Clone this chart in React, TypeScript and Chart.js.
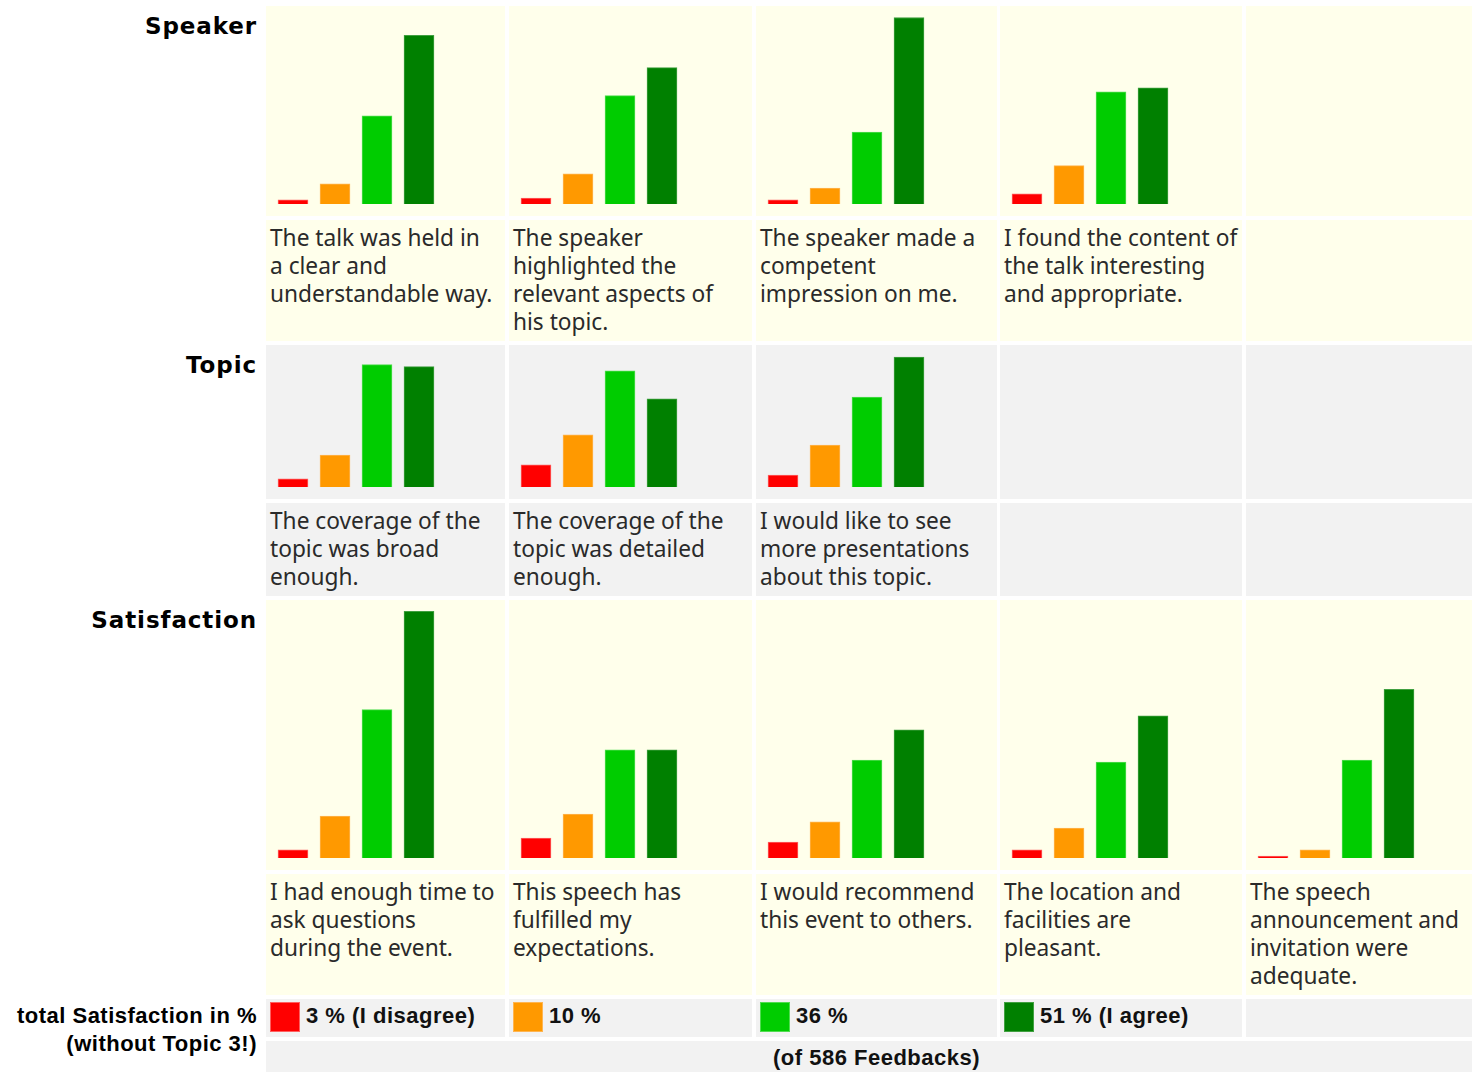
import React, { useEffect, useRef } from "react";
import { Chart, registerables } from "chart.js";

Chart.register(...registerables);

// ---------- data ----------
const categories = ["I disagree", "rather disagree", "rather agree", "I agree"];
const barColors = ["#ff0000", "#ff9900", "#00cc00", "#008000"];
const barBorders = ["#ff6060", "#ffb550", "#50dd50", "#40a040"];

const sectionNames = ["Speaker", "Topic", "Satisfaction"];

const speakerQuestions = [
  ["The talk was held in", "a clear and", "understandable way."],
  ["The speaker", "highlighted the", "relevant aspects of", "his topic."],
  ["The speaker made a", "competent", "impression on me."],
  ["I found the content of", "the talk interesting", "and appropriate."],
];
const speakerValues = [
  [1.5, 7.2, 31.5, 60.2],
  [2.1, 10.8, 38.7, 48.7],
  [1.5, 5.7, 25.7, 66.6],
  [3.6, 13.7, 40.1, 41.5],
];

const topicQuestions = [
  ["The coverage of the", "topic was broad", "enough."],
  ["The coverage of the", "topic was detailed", "enough."],
  ["I would like to see", "more presentations", "about this topic."],
];
const topicValues = [
  [2.9, 11.4, 43.7, 43.0],
  [7.9, 18.6, 41.5, 31.5],
  [4.3, 15.0, 32.1, 46.4],
];

const satisfactionQuestions = [
  ["I had enough time to", "ask questions", "during the event."],
  ["This speech has", "fulfilled my", "expectations."],
  ["I would recommend", "this event to others."],
  ["The location and", "facilities are", "pleasant."],
  ["The speech", "announcement and", "invitation were", "adequate."],
];
const satisfactionValues = [
  [2.9, 15.0, 53.0, 88.1],
  [7.1, 15.7, 38.6, 38.6],
  [5.7, 12.9, 35.0, 45.8],
  [2.9, 10.7, 34.3, 50.8],
  [0.7, 2.9, 35.0, 60.2],
];

const totalTitle = ["total Satisfaction in %", "(without Topic 3!)"];
const totalPercent = [3, 10, 36, 51];
const totalSuffix = [" (I disagree)", "", "", " (I agree)"];
const feedbackCount = 586;

// ---------- layout ----------
const PX_PER_UNIT = 2.8;
const COL_LEFT = [266, 509, 756, 1000, 1246];
const COL_WIDTH = [239, 243, 241, 242, 241];
const ROWS = [
  { chartTop: 6, chartH: 210, textTop: 220, textH: 121, bg: "#ffffeb" },
  { chartTop: 345, chartH: 154, textTop: 503, textH: 93, bg: "#f2f2f2" },
  { chartTop: 600, chartH: 270, textTop: 874, textH: 121, bg: "#ffffeb" },
];
const GRAY = "#f2f2f2";

const questionFont = "'Noto Sans', sans-serif";
const headFont = "'DejaVu Sans', sans-serif";
const boldFont = "'Liberation Sans', Arial, sans-serif";

function BarCell(props: { values: number[]; left: number; top: number; height: number }) {
  const ref = useRef<HTMLCanvasElement>(null);
  const { values, left, top, height } = props;
  useEffect(() => {
    const chart = new Chart(ref.current as HTMLCanvasElement, {
      type: "bar",
      data: {
        labels: categories,
        datasets: [
          {
            data: values,
            backgroundColor: barColors,
            borderColor: barBorders,
            borderWidth: 1,
            barThickness: 30,
          },
        ],
      },
      options: {
        animation: false,
        responsive: false,
        maintainAspectRatio: false,
        events: [],
        layout: { padding: 0 },
        plugins: { legend: { display: false }, tooltip: { enabled: false } },
        scales: {
          x: { display: false },
          y: { display: false, min: 0, max: height / PX_PER_UNIT },
        },
      },
    });
    return () => chart.destroy();
  }, []);
  return (
    <canvas
      ref={ref}
      width={168}
      height={height}
      style={{ position: "absolute", left, top, width: 168, height }}
    />
  );
}

export default function App() {
  const sections = [
    { questions: speakerQuestions, values: speakerValues },
    { questions: topicQuestions, values: topicValues },
    { questions: satisfactionQuestions, values: satisfactionValues },
  ];
  const els: any[] = [];
  sections.forEach((sec, si) => {
    const r = ROWS[si];
    els.push(
      <div
        key={"h" + si}
        style={{
          position: "absolute",
          left: 0,
          width: 257,
          top: r.chartTop + 6,
          textAlign: "right",
          font: `bold 23px ${headFont}`,
          lineHeight: "28px",
          letterSpacing: "0.9px",
          color: "#000",
          whiteSpace: "nowrap",
        }}
      >
        {sectionNames[si]}
      </div>
    );
    for (let c = 0; c < 5; c++) {
      els.push(
        <div
          key={`cb${si}-${c}`}
          style={{ position: "absolute", left: COL_LEFT[c], top: r.chartTop, width: COL_WIDTH[c], height: r.chartH, background: r.bg }}
        />
      );
      els.push(
        <div
          key={`tb${si}-${c}`}
          style={{ position: "absolute", left: COL_LEFT[c], top: r.textTop, width: COL_WIDTH[c], height: r.textH, background: r.bg }}
        />
      );
      if (c < sec.values.length) {
        els.push(
          <BarCell key={`ch${si}-${c}`} values={sec.values[c]} left={COL_LEFT[c] + 6} top={r.chartTop} height={r.chartH - 12} />
        );
        els.push(
          <div
            key={`tx${si}-${c}`}
            style={{
              position: "absolute",
              left: COL_LEFT[c] + 4,
              top: r.textTop + 4,
              font: `22.7px ${questionFont}`,
              lineHeight: "28px",
              color: "#2a2a2a",
              whiteSpace: "nowrap",
            }}
          >
            {sec.questions[c].map((line, i) => (
              <div key={i}>{line}</div>
            ))}
          </div>
        );
      }
    }
  });

  // totals
  els.push(
    <div
      key="tt"
      style={{
        position: "absolute",
        left: 0,
        width: 257,
        top: 1002,
        textAlign: "right",
        font: `bold 22px ${boldFont}`,
        lineHeight: "28px",
        letterSpacing: "0.5px",
        color: "#000",
        whiteSpace: "nowrap",
      }}
    >
      {totalTitle.map((l, i) => (
        <div key={i}>{l}</div>
      ))}
    </div>
  );
  for (let c = 0; c < 5; c++) {
    els.push(
      <div key={"tr" + c} style={{ position: "absolute", left: COL_LEFT[c], top: 999, width: COL_WIDTH[c], height: 38, background: GRAY }} />
    );
    if (c < totalPercent.length) {
      els.push(
        <div
          key={"sq" + c}
          style={{
            position: "absolute",
            left: COL_LEFT[c] + 4,
            top: 1002,
            width: 30,
            height: 30,
            boxSizing: "border-box",
            background: barColors[c],
            border: `1px solid ${barBorders[c]}`,
          }}
        />
      );
      els.push(
        <div
          key={"lt" + c}
          style={{
            position: "absolute",
            left: COL_LEFT[c] + 40,
            top: 1002,
            font: `bold 22px ${boldFont}`,
            lineHeight: "28px",
            letterSpacing: "0.5px",
            color: "#111",
            whiteSpace: "nowrap",
          }}
        >
          {`${totalPercent[c]} %${totalSuffix[c]}`}
        </div>
      );
    }
  }
  els.push(
    <div
      key="fb"
      style={{
        position: "absolute",
        left: 266,
        top: 1041,
        width: 1221,
        height: 40,
        background: GRAY,
        textAlign: "center",
        font: `bold 22px ${boldFont}`,
        lineHeight: "28px",
        letterSpacing: "0.5px",
        color: "#111",
        paddingTop: 3,
        boxSizing: "border-box",
        whiteSpace: "nowrap",
      }}
    >
      {`(of ${feedbackCount} Feedbacks)`}
    </div>
  );

  return (
    <div style={{ position: "absolute", left: 0, top: 0, width: 1472, height: 1072, overflow: "hidden", background: "#fff" }}>
      {els}
    </div>
  );
}
